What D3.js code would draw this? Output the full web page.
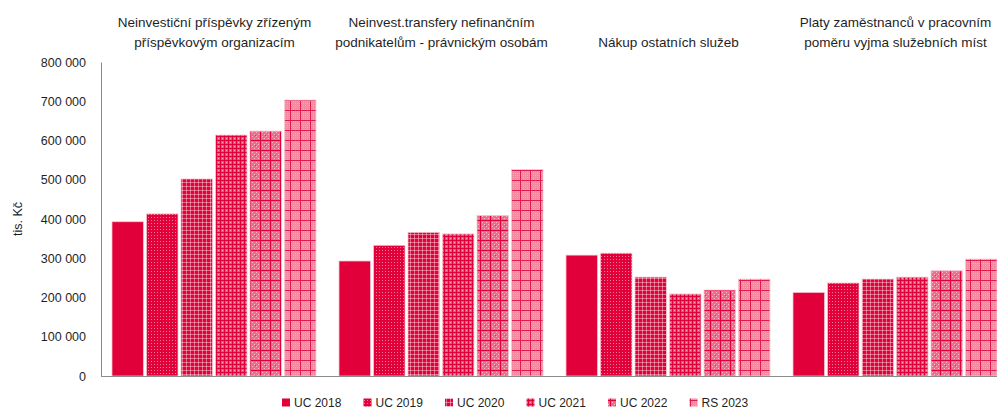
<!DOCTYPE html>
<html><head><meta charset="utf-8">
<script src="https://cdn.jsdelivr.net/npm/d3@7"></script>
<style>
html,body{margin:0;padding:0;background:#fff;overflow:hidden}
text{font-family:"Liberation Sans",Arial,sans-serif;fill:#1f1f1f}
</style></head>
<body>
<svg id="chart" width="997" height="410"></svg>
<script>
const categories = [
  ["Neinvestiční příspěvky zřízeným","příspěvkovým organizacím"],
  ["Neinvest.transfery nefinančním","podnikatelům - právnickým osobám"],
  ["","Nákup ostatních služeb"],
  ["Platy zaměstnanců v pracovním","poměru vyjma služebních míst"]
];
const seriesNames = ["UC 2018","UC 2019","UC 2020","UC 2021","UC 2022","RS 2023"];
const uc2018 = [393000, 293000, 308000, 213000];
const uc2019 = [413000, 333000, 313000, 237000];
const uc2020 = [502000, 366000, 252000, 247000];
const uc2021 = [614000, 362000, 209000, 252000];
const uc2022 = [624000, 409000, 219000, 268000];
const rs2023 = [703000, 526000, 247000, 298000];
const seriesValues = [uc2018, uc2019, uc2020, uc2021, uc2022, rs2023];
const yTicks = [0,100000,200000,300000,400000,500000,600000,700000,800000];

(function(){
const svg = d3.select("#chart");
const defs = svg.append("defs");
const RED = "#E2003B";

function pat(id, size, draw){
  const p = defs.append("pattern").attr("id", id).attr("patternUnits","userSpaceOnUse")
    .attr("width", size).attr("height", size);
  draw(p);
}
pat("p1", 3, p => {
  p.append("rect").attr("width",3).attr("height",3).attr("fill",RED);
  p.append("rect").attr("x",1).attr("y",1).attr("width",1).attr("height",1).attr("fill","#F27D99");
});
pat("p2", 4, p => {
  p.append("rect").attr("width",4).attr("height",4).attr("fill",RED);
  p.append("rect").attr("x",0).attr("y",2).attr("width",4).attr("height",1).attr("fill","#EE6A8A");
  p.append("rect").attr("x",2).attr("y",0).attr("width",1).attr("height",4).attr("fill","#EE6A8A");
  p.append("rect").attr("x",2).attr("y",2).attr("width",1).attr("height",1).attr("fill","#F5A3B6");
});
pat("p3", 4, p => {
  p.append("rect").attr("width",4).attr("height",4).attr("fill","#EC5579");
  p.append("rect").attr("x",0).attr("y",0).attr("width",4).attr("height",1).attr("fill",RED);
  p.append("rect").attr("x",0).attr("y",0).attr("width",1).attr("height",4).attr("fill",RED);
  p.append("rect").attr("x",2).attr("y",2).attr("width",1).attr("height",1).attr("fill","#F5A6B8");
});
pat("p4", 10, p => {
  p.append("rect").attr("width",10).attr("height",10).attr("fill","#F06C8C");
  for (let i=0;i<10;i+=2) for (let j=0;j<10;j+=2) if (((i+j)/2)%2===0)
    p.append("rect").attr("x",i).attr("y",j).attr("width",1).attr("height",1).attr("fill","#F7B8C7");
  p.append("rect").attr("x",0).attr("y",0).attr("width",10).attr("height",1).attr("fill",RED);
  p.append("rect").attr("x",0).attr("y",0).attr("width",1).attr("height",10).attr("fill",RED);
  p.append("rect").attr("x",5).attr("y",5).attr("width",1).attr("height",1).attr("fill","#E8335E");
});
pat("p5", 10, p => {
  p.append("rect").attr("width",10).attr("height",10).attr("fill","#F28AA2");
  for (let i=1;i<10;i+=2) for (let j=1;j<10;j+=2)
    p.append("rect").attr("x",i).attr("y",j).attr("width",1).attr("height",1).attr("fill","#F4A2B5");
  p.append("rect").attr("x",0).attr("y",0).attr("width",10).attr("height",1).attr("fill","#E4184A");
  p.append("rect").attr("x",0).attr("y",0).attr("width",1).attr("height",10).attr("fill","#E4184A");
});
const fills = [RED, "url(#p1)", "url(#p2)", "url(#p3)", "url(#p4)", "url(#p5)"];

const plotLeft = 101, plotBottom = 376, plotTop = 62;
const x0 = d3.scaleBand().domain(d3.range(categories.length)).range([plotLeft, plotLeft + 227*4]);
const x1 = d3.scaleBand().domain(d3.range(seriesNames.length)).range([11, 215]).paddingInner(0.087);
const y = d3.scaleLinear().domain([0, 800000]).range([plotBottom, plotTop]);

seriesValues.forEach((vals, s) => {
  svg.append("g").selectAll("rect").data(vals).join("rect")
    .attr("x", (d,i) => x0(i) + x1(s))
    .attr("y", d => y(d))
    .attr("width", x1.bandwidth())
    .attr("height", d => plotBottom - y(d))
    .attr("fill", fills[s])
    .attr("stroke", "#F8C6D2").attr("stroke-width", 0.75);
});

const yAxis = d3.axisLeft(y).tickValues(yTicks).tickSize(0).tickPadding(15)
  .tickFormat(d => d3.format(",")(d).replace(/,/g, " "));
const ga = svg.append("g").attr("transform", `translate(${plotLeft},0)`).call(yAxis);
ga.select(".domain").attr("stroke", "#8C8C8C");
ga.selectAll("text").attr("font-size", 12.5).attr("font-family", '"Liberation Sans",Arial,sans-serif').attr("fill", "#1f1f1f");

svg.append("line").attr("x1", plotLeft).attr("x2", 997).attr("y1", plotBottom + 0.5).attr("y2", plotBottom + 0.5)
  .attr("stroke", "#8C8C8C");

svg.append("text").attr("transform", `translate(22,219) rotate(-90)`).attr("text-anchor","middle")
  .attr("font-size", 12.5).text("tis. Kč");

categories.forEach((lines, i) => {
  const t = svg.append("text").attr("text-anchor","middle").attr("font-size", 13.5);
  lines.forEach((ln, k) => {
    t.append("tspan").attr("x", x0(i) + x0.bandwidth()/2).attr("y", 27 + k*20).text(ln);
  });
});

const leg = svg.append("g");
seriesNames.forEach((n, i) => {
  const lx = 282 + i*81.5;
  leg.append("rect").attr("x", lx).attr("y", 398.5).attr("width", 8).attr("height", 8).attr("fill", fills[i]);
  leg.append("text").attr("x", lx + 12).attr("y", 406.5).attr("font-size", 12).text(n);
});
})();
</script>
</body></html>
